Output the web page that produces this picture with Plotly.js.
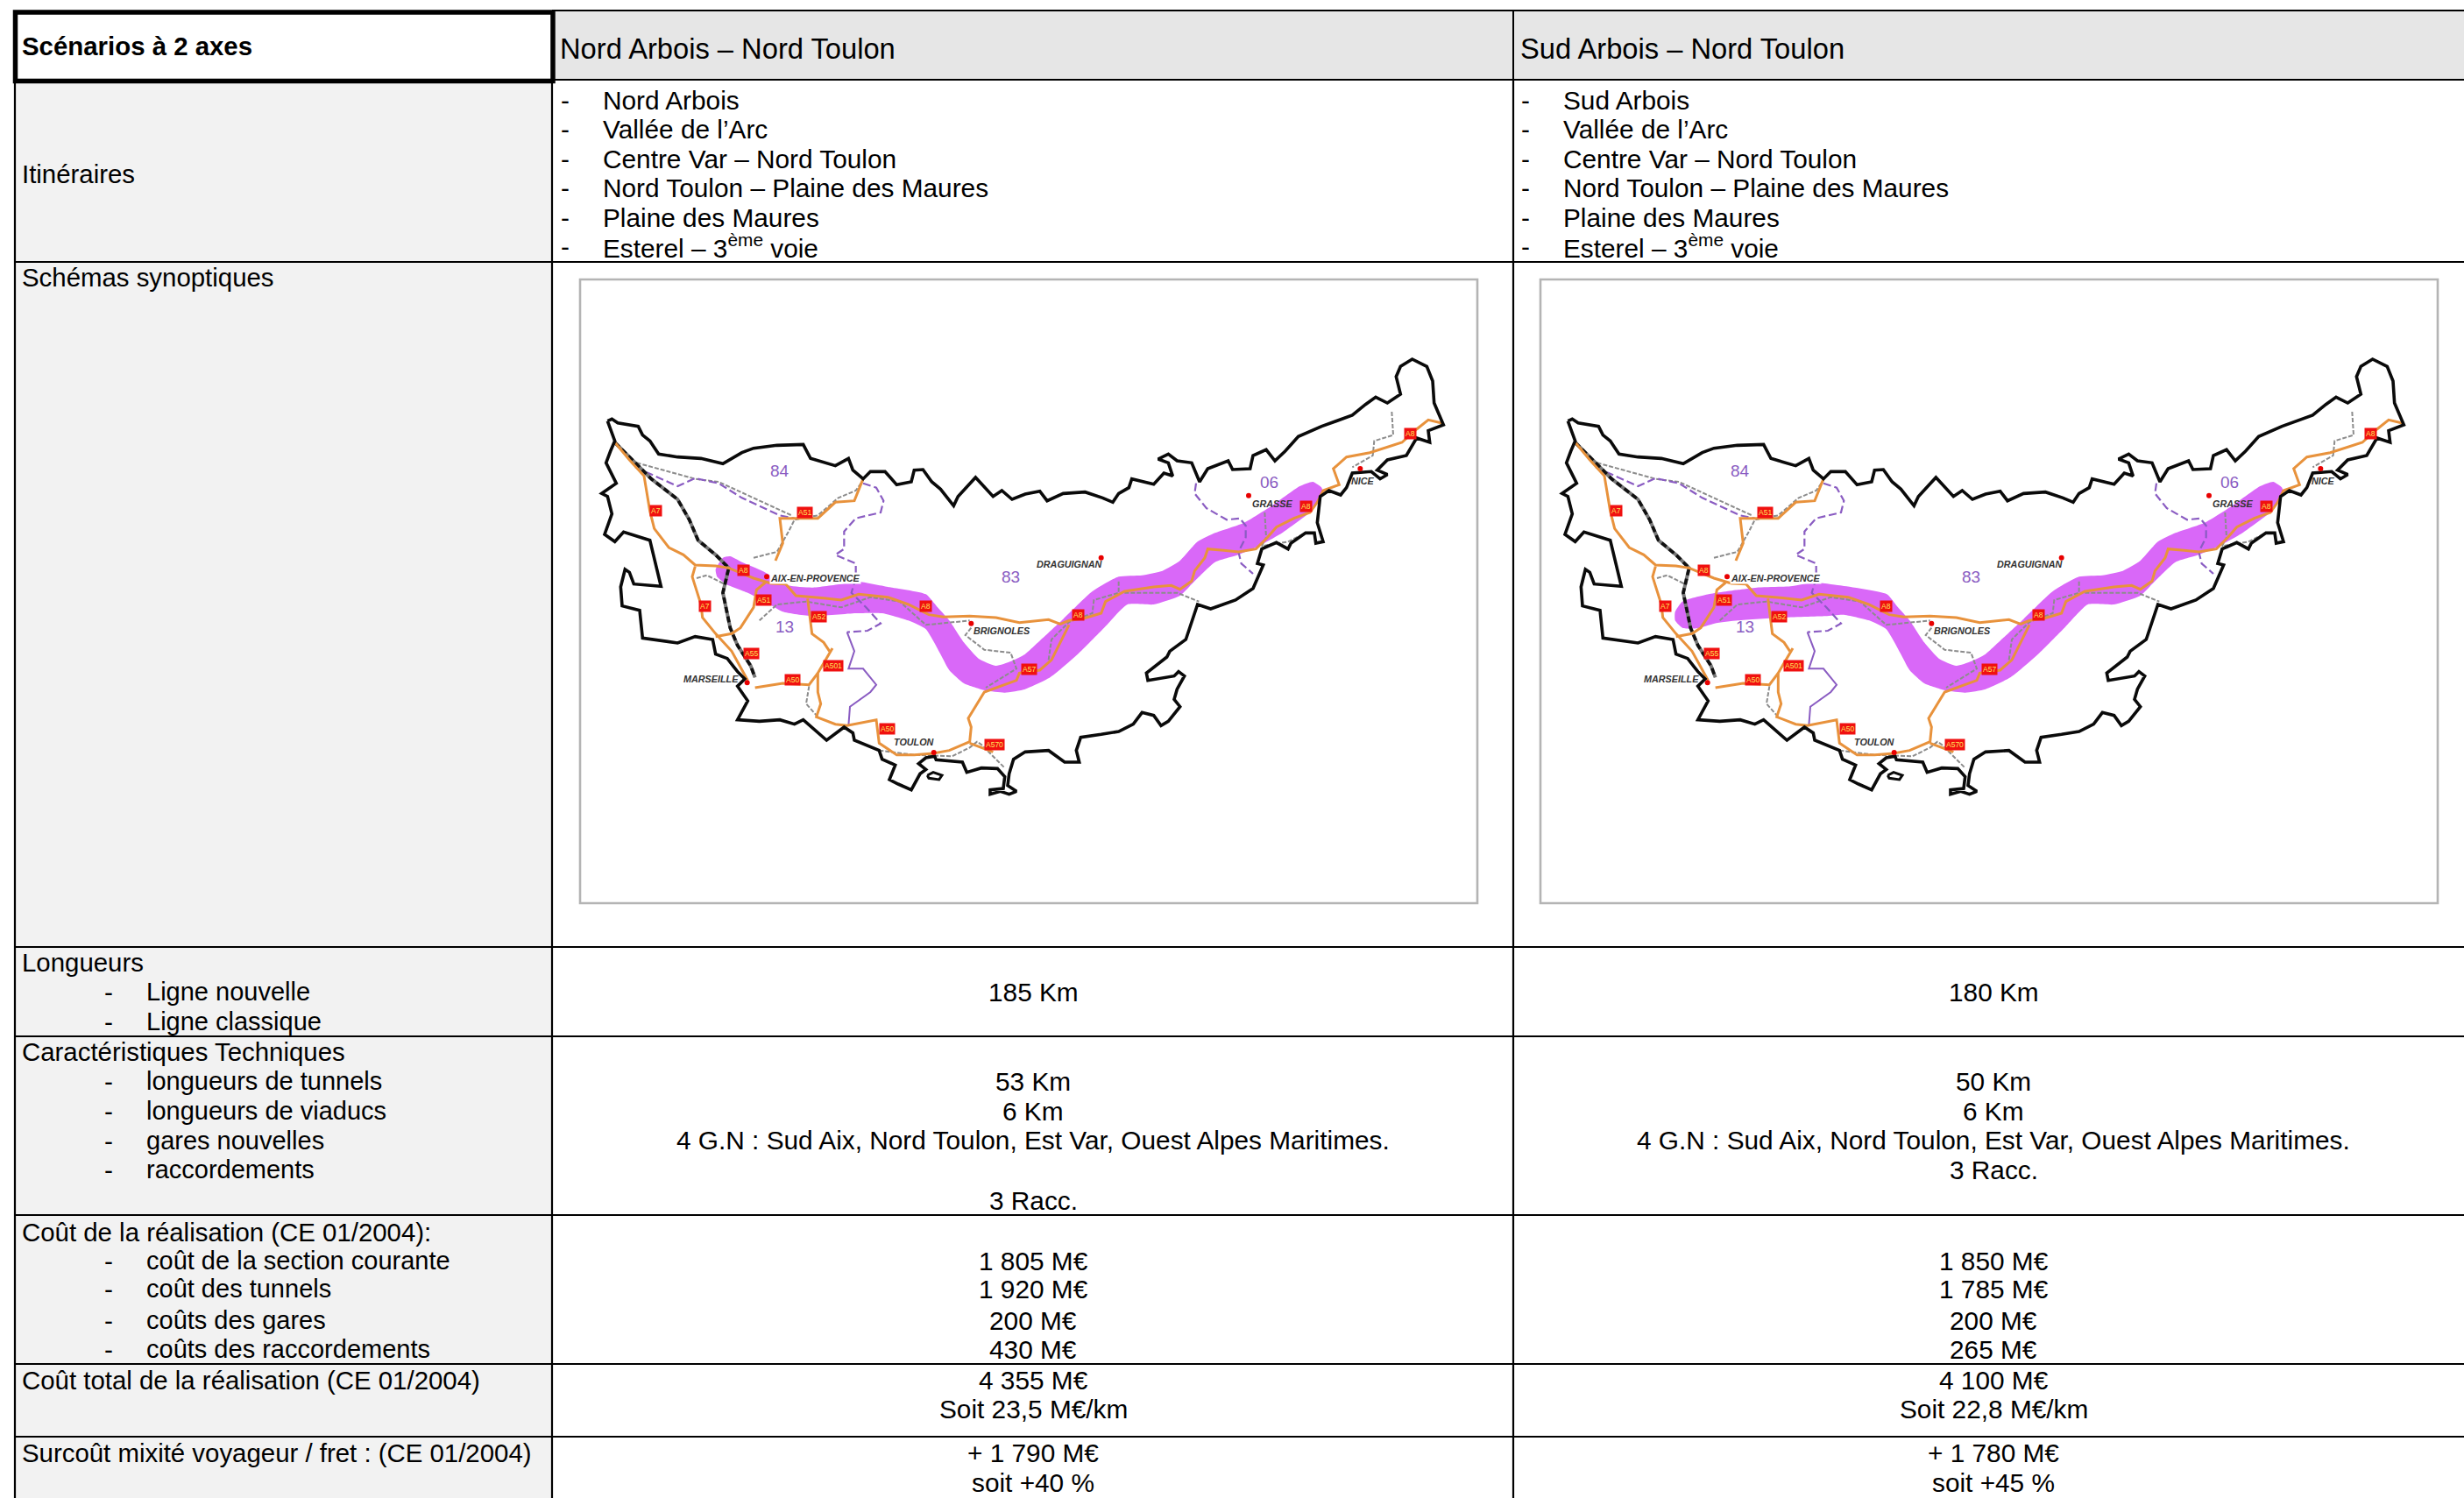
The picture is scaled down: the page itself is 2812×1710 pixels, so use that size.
<!DOCTYPE html>
<html><head><meta charset="utf-8">
<script src="https://cdn.plot.ly/plotly-3.0.1.min.js"></script>
<style>html,body{margin:0;padding:0;background:#fff}#c{width:2812px;height:1710px}</style>
</head><body><div id="c"></div>
<script>
// ---------- table text ----------
const headerTitle = 'Scénarios à 2 axes';
const scenarioNames = ['Nord Arbois – Nord Toulon', 'Sud Arbois – Nord Toulon'];
const itinerariesA = ['Nord Arbois', 'Vallée de l’Arc', 'Centre Var – Nord Toulon', 'Nord Toulon – Plaine des Maures', 'Plaine des Maures', 'Esterel – 3<sup>ème</sup> voie'];
const itinerariesB = ['Sud Arbois', 'Vallée de l’Arc', 'Centre Var – Nord Toulon', 'Nord Toulon – Plaine des Maures', 'Plaine des Maures', 'Esterel – 3<sup>ème</sup> voie'];
const itineraryY = [114, 147, 181, 214, 248, 281];
const rowLabels = ['Itinéraires', 'Schémas synoptiques', 'Longueurs', 'Caractéristiques Techniques', 'Coût de la réalisation (CE 01/2004):', 'Coût total de la réalisation (CE 01/2004)', 'Surcoût mixité voyageur / fret : (CE 01/2004)'];
const rowLabelY = [198, 316, 1098, 1200, 1406, 1575, 1658];
const subLabels = ['Ligne nouvelle', 'Ligne classique', 'longueurs de tunnels', 'longueurs de viaducs', 'gares nouvelles', 'raccordements', 'coût de la section courante', 'coût des tunnels', 'coûts des gares', 'coûts des raccordements'];
const subLabelY = [1132, 1166, 1234, 1268, 1302, 1335, 1439, 1471, 1507, 1540];
const valueY = [1132, 1234, 1268, 1301, 1370, 1439, 1471, 1507, 1540, 1575, 1608, 1658, 1692];
const valuesA = ['185 Km', '53 Km', '6 Km', '4 G.N : Sud Aix, Nord Toulon, Est Var, Ouest Alpes Maritimes.', '3 Racc.', '1 805 M€', '1 920 M€', '200 M€', '430 M€', '4 355 M€', 'Soit 23,5 M€/km', '+ 1 790 M€', 'soit +40 %'];
const valueBY = [1132, 1234, 1268, 1301, 1335, 1439, 1471, 1507, 1540, 1575, 1608, 1658, 1692];
const valuesB = ['180 Km', '50 Km', '6 Km', '4 G.N : Sud Aix, Nord Toulon, Est Var, Ouest Alpes Maritimes.', '3 Racc.', '1 850 M€', '1 785 M€', '200 M€', '265 M€', '4 100 M€', 'Soit 22,8 M€/km', '+ 1 780 M€', 'soit +45 %'];

// ---------- table grid (page pixels) ----------
const gridRows = [299, 1081, 1183, 1387, 1557, 1640];
const gridCols = [17, 630, 1727];
const colStart = [634, 1727];
const colCenter = [1179, 2275];
const colDash = [645, 1741];
const colText = [687, 1783];
const frameX = [[662, 1686], [1758, 2782]];
const frameY = [319, 1031];

// ---------- map (map units: 1 unit = 1/3 page pixel) ----------
const borderPts = [100,242,115,235,135,248,205,260,220,290,245,310,275,355,340,365,420,370,495,388,560,350,600,335,680,325,770,322,795,370,850,385,880,395,925,370,940,410,975,440,1000,415,1050,415,1090,460,1140,450,1150,410,1180,408,1210,450,1240,475,1285,532,1300,500,1360,435,1420,500,1450,480,1485,510,1530,492,
1580,482,1605,515,1660,490,1735,485,1795,505,1830,520,1850,490,1885,470,1895,440,1970,458,2005,420,2035,430,2020,385,1985,372,2020,355,2050,378,2100,385,2127,450,2155,405,2225,378,2240,408,2300,405,2310,360,2355,340,2385,378,2420,345,2465,295,2545,260,2650,222,2695,185,2730,160,2770,180,2815,150,2800,90,2815,55,2855,30,2905,55,2925,105,2930,180,2962,255,2910,275,2915,315,2870,300,2835,360,2770,375,2735,410,2770,425,2745,440,2715,415,2650,420,2630,470,2610,495,2570,480,2540,500,2530,590,2545,640,2550,655,2525,660,2520,625,2490,625,2440,660,2430,680,2390,658,2340,680,2325,730,2345,735,2310,815,2250,855,2165,885,2120,870,2090,960,2080,990,2025,1030,2015,1050,1945,1105,1950,1130,2040,1115,2055,1100,2075,1115,2050,1160,2040,1195,2060,1220,
2020,1270,1995,1285,1970,1250,1930,1240,1900,1280,1850,1305,1790,1315,1720,1325,1705,1370,1715,1410,1665,1410,1610,1370,1530,1375,1490,1400,1475,1450,1470,1490,1500,1510,1475,1520,1445,1510,1410,1520,1410,1505,1455,1500,1460,1460,1435,1432,1380,1430,1330,1445,1315,1410,1225,1402,1220,1390,1190,1395,1165,1415,1190,1435,1170,1450,1140,1505,1095,1485,1065,1470,1085,1420,1040,1400,1030,1370,
980,1350,945,1335,940,1310,910,1290,850,1335,810,1300,770,1265,740,1280,690,1265,620,1270,545,1265,580,1200,545,1150,570,1125,545,1100,510,1055,470,1040,460,990,400,980,340,1002,220,985,210,890,150,875,145,810,160,750,175,760,190,800,283,808,245,650,155,622,125,655,90,630,115,560,100,500,80,490,130,455,95,385,110,345,125,310,100,242];
const islandPts = [1195,1455,1215,1445,1245,1455,1235,1470,1200,1465,1195,1455];

const bandTopA = [470,750,495,710,520,705,560,725,630,755,720,805,800,812,900,800,960,792,1060,810,1190,835];
const bandEast = [1230,880,1270,925,1320,1000,1370,1055,1430,1080,1480,1065,1530,1040,1590,985,1660,920,1760,825,1850,775,1930,770,2000,755,2060,720,2120,655,2180,625,2280,590,2370,535,2470,465,2515,450,2545,470,2550,490,2530,520,2510,550,2410,625,2330,670,2260,700,2180,725,2130,770,2100,800,2060,840,1970,870,1880,870,1800,950,1710,1040,1615,1120,1530,1160,1460,1172,1395,1165,1320,1140,1270,1095,1240,1040,1190,955];
const bandBottomA = [1130,925,1040,900,950,900,800,910,700,895,640,860,580,830,505,800,475,775,470,750];
const bandTopB = [467,895,492,860,582,835,682,820,747,812,862,808,942,795,1032,805,1192,835];
const bandBottomB = [1132,925,1042,905,982,910,832,915,682,925,602,935,542,952,492,950,467,925,467,895];

const roadMain = [125,315,175,375,225,430,245,550,260,610,310,675,360,700,400,735,470,738,515,745,600,780,660,798,710,800,745,840,840,848,900,855,960,835,1060,845,1130,870,1200,905,1250,913,1340,910,1430,915,1510,932,1610,922,1650,937,1680,925,1730,918,1790,900,1805,860,1870,825,1970,810,2030,805,2060,818,2100,790,2110,755,2145,710,2155,680,2210,685,2260,690,2320,680,2360,640,2390,605,2450,575,2505,555,2530,520,2550,480,2605,460,2585,405,2630,365,2710,350,2820,315,2870,270,2910,238,2960,250];
const roadA7South = [400,740,390,775,420,870,425,915,470,970,525,1030,580,1130];
const roadA51South = [470,980,525,970,555,950,600,880,610,820,640,795];
const roadA52 = [785,850,800,970,840,1000,860,1030];
const roadA501 = [870,1020,820,1105,820,1170,830,1210,815,1255,880,1280,920,1285,1020,1265,1030,1345,1090,1385,1150,1385,1215,1380,1270,1370,1340,1340,1345,1290,1335,1260,1390,1170,1500,1130,1510,1105,1580,1095,1620,1060,1680,940];
const roadA570 = [1340,1345,1420,1375];
const roadA50 = [605,1155,700,1140,790,1145,820,1105];
const roadA51North = [675,720,700,660,690,575,750,575,820,575,880,520,945,515,975,440];

const railLines = [
  [200,385,400,440,480,450,730,565],
  [600,710,680,690,720,620,740,580,820,565,890,505,950,480,975,445],
  [405,780,440,770,500,800],
  [620,925,680,870,780,860,900,880,1000,845,1100,860,1190,940,1300,930,1340,925],
  [1345,950,1325,975,1390,1025,1480,1035,1500,1090,1395,1155],
  [1610,1060,1620,990,1680,930,1760,900,1765,855,1850,830,1850,790],
  [1870,830,2050,830,2125,860],
  [2350,555,2355,640,2340,670,2430,655,2490,625],
  [2785,210,2790,290,2725,310,2720,360,2650,400],
  [1030,1370,1150,1385,1280,1390,1340,1360,1365,1340,1380,1350,1460,1430],
  [790,1150,780,1210,820,1255]
];
const railRhone = [125,315,250,440,340,510,380,580,410,650,470,700,515,745,495,830,520,950,545,1010,590,1080,605,1120];

const deptDashed = [
  [195,400,340,465,400,438,480,455,560,505,690,565,740,575],
  [975,455,1020,470,1045,515,1035,555,950,575,910,620,910,680,880,700,950,730,950,780,935,830,985,880,1035,935,990,960,920,965],
  [2115,455,2110,490,2150,540,2220,580,2265,575,2285,600,2285,640,2260,690,2270,730,2310,765]
];
const deptSolid = [920,965,945,1030,925,1090,975,1090,1020,1145,1000,1170,930,1220,925,1285];

const cityDotX = [645,578,1345,1790,1217,2295,2677];
const cityDotY = [775,1138,935,710,1377,497,405];
const cityNames = ['AIX-EN-PROVENCE','MARSEILLE','BRIGNOLES','TOULON','DRAGUIGNAN','GRASSE','NICE'];
const cityX = [812,455,1450,1148,1680,2375,2687];
const cityY = [780,1125,960,1340,732,525,447];
const deptNames = ['84','13','83','06'];
const deptX = [690,705,1480,2365];
const deptY = [412,945,775,450];
const roadNames = ['A7','A51','A7','A8','A51','A52','A55','A501','A50','A8','A50','A570','A57','A8','A8','A8'];
const roadNameX = [265,775,432,565,635,823,593,872,732,1190,1057,1425,1542,1712,2492,2848];
const roadNameY = [550,555,877,753,855,913,1038,1080,1128,875,1295,1350,1092,905,535,285];

// ---------- colours and sizes ----------
const ink = '#000000', headFill = '#e6e6e6', labelFill = '#f2f2f2', frameGrey = '#b4b4b4';
const orange = '#e8923c', purple = '#8a5cc2', band = '#d968f8', railGrey = '#8c8c8c';
const font = 'Liberation Sans';
const bodySize = 29.8, labelSize = 29.4, subSize = 29.0, headSize = 32.7;

function xs(a){return a.filter((_,i)=>i%2===0);}
function ys(a){return a.filter((_,i)=>i%2===1);}
const traces = [];
function mapTraces(k, topPts, bottomPts){
  const ax = {xaxis:'x'+k, yaxis:'y'+k, showlegend:false, hoverinfo:'skip', mode:'lines', type:'scatter'};
  const pts = topPts.concat(bandEast, bottomPts);
  traces.push({...ax, x:xs(pts), y:ys(pts), fill:'toself', fillcolor:band, line:{width:0, color:band, shape:'spline', smoothing:0.5}});
  railLines.forEach(r=>traces.push({...ax, x:xs(r), y:ys(r), line:{color:railGrey, width:2, dash:'5px,2px'}}));
  deptDashed.forEach(r=>traces.push({...ax, x:xs(r), y:ys(r), line:{color:purple, width:2.2, dash:'9px,4px'}}));
  traces.push({...ax, x:xs(deptSolid), y:ys(deptSolid), line:{color:purple, width:2}});
  traces.push({...ax, x:xs(railRhone), y:ys(railRhone), line:{color:'#777777', width:4}});
  traces.push({...ax, x:xs(railRhone), y:ys(railRhone), line:{color:'#111111', width:3.6, dash:'7px,4px'}});
  [roadMain,roadA7South,roadA51South,roadA52,roadA501,roadA570,roadA50,roadA51North].forEach(r=>
    traces.push({...ax, x:xs(r), y:ys(r), line:{color:orange, width:3}}));
  traces.push({...ax, x:xs(borderPts), y:ys(borderPts), line:{color:'#0a0a0a', width:3.6}});
  traces.push({...ax, x:xs(islandPts), y:ys(islandPts), line:{color:'#0a0a0a', width:3}});
  traces.push({...ax, mode:'markers', x:cityDotX, y:cityDotY, marker:{color:'#e80000', size:6}});
}
mapTraces('2', bandTopA, bandBottomA);
mapTraces('3', bandTopB, bandBottomB);

// ---------- grid shapes ----------
const shapes = [];
const line = (x0,y0,x1,y1,w,c)=>shapes.push({type:'line',xref:'x',yref:'y',x0,y0,x1,y1,line:{width:w,color:c||ink},layer:'below'});
shapes.push({type:'rect',xref:'x',yref:'y',x0:17,x1:630,y0:91,y1:1710,fillcolor:labelFill,line:{width:0},layer:'below'});
shapes.push({type:'rect',xref:'x',yref:'y',x0:colStart[0],x1:2812,y0:12,y1:91,fillcolor:headFill,line:{width:0},layer:'below'});
gridRows.forEach(y=>line(17,y,2812,y,2.2));
gridCols.forEach(x=>line(x,91,x,1710,2.2));
line(630,12,2812,12,2);
line(630,91,2812,91,2);
line(1727,12,1727,91,2);
frameX.forEach(fx=>shapes.push({type:'rect',xref:'x',yref:'y',x0:fx[0],x1:fx[1],y0:frameY[0],y1:frameY[1],fillcolor:'#ffffff',line:{width:2.6,color:frameGrey},layer:'below'}));
shapes.push({type:'rect',xref:'x',yref:'y',x0:17.5,x1:631,y0:14,y1:92.5,fillcolor:'#ffffff',line:{width:5.5,color:ink},layer:'below'});

// ---------- text ----------
const ann = [];
const T = (text,x,y,anchor,size)=>ann.push({text,x,y,xref:'x',yref:'y',xanchor:anchor,yanchor:'middle',showarrow:false,borderpad:0,
  font:{family:font,size:size||bodySize,color:ink}});
T('<b>'+headerTitle+'</b>',24,52,'left',labelSize);
scenarioNames.forEach((s,i)=>T(s,i?1734:638,55,'left',headSize));
[itinerariesA,itinerariesB].forEach((list,c)=>list.forEach((s,i)=>{T('-',colDash[c],itineraryY[i],'center');T(s,colText[c],itineraryY[i],'left');}));
rowLabels.forEach((s,i)=>T(s,24,rowLabelY[i],'left',labelSize));
subLabels.forEach((s,i)=>{T('-',124,subLabelY[i],'center');T(s,166,subLabelY[i],'left',subSize);});
valuesA.forEach((s,i)=>T(s,colCenter[0],valueY[i],'center'));
valuesB.forEach((s,i)=>T(s,colCenter[1],valueBY[i],'center'));
['2','3'].forEach(k=>{
  cityNames.forEach((s,i)=>ann.push({text:'<b><i>'+s+'</i></b>',x:cityX[i],y:cityY[i],xref:'x'+k,yref:'y'+k,showarrow:false,borderpad:0,
    bgcolor:i===0?'#ffffff':'rgba(0,0,0,0)',font:{family:font,size:10.8,color:'#333333'}}));
  deptNames.forEach((s,i)=>ann.push({text:s,x:deptX[i],y:deptY[i],xref:'x'+k,yref:'y'+k,showarrow:false,borderpad:0,font:{family:font,size:19,color:purple}}));
  roadNames.forEach((s,i)=>ann.push({text:s,x:roadNameX[i],y:roadNameY[i],xref:'x'+k,yref:'y'+k,showarrow:false,borderpad:1,bgcolor:'#f01010',font:{family:font,size:8.5,color:'#ffe45a'}}));
});

const W=2812,H=1710;
const hidden = {visible:false, showgrid:false, zeroline:false, fixedrange:true};
const mapRangeX=[6,3078], mapRangeY=[1893,-243];
const domY=[1-frameY[1]/H, 1-frameY[0]/H];
const layout = {
  width:W, height:H, margin:{l:0,r:0,t:0,b:0}, paper_bgcolor:'#ffffff', plot_bgcolor:'rgba(0,0,0,0)', showlegend:false,
  xaxis:{...hidden, range:[0,W], domain:[0,1]},
  yaxis:{...hidden, range:[H,0], domain:[0,1]},
  xaxis2:{...hidden, range:mapRangeX, domain:[frameX[0][0]/W, frameX[0][1]/W], anchor:'y2'},
  yaxis2:{...hidden, range:mapRangeY, domain:domY, anchor:'x2'},
  xaxis3:{...hidden, range:mapRangeX, domain:[frameX[1][0]/W, frameX[1][1]/W], anchor:'y3'},
  yaxis3:{...hidden, range:mapRangeY, domain:domY, anchor:'x3'},
  shapes, annotations:ann
};
Plotly.newPlot('c', traces, layout, {displayModeBar:false, staticPlot:true});
</script></body></html>
